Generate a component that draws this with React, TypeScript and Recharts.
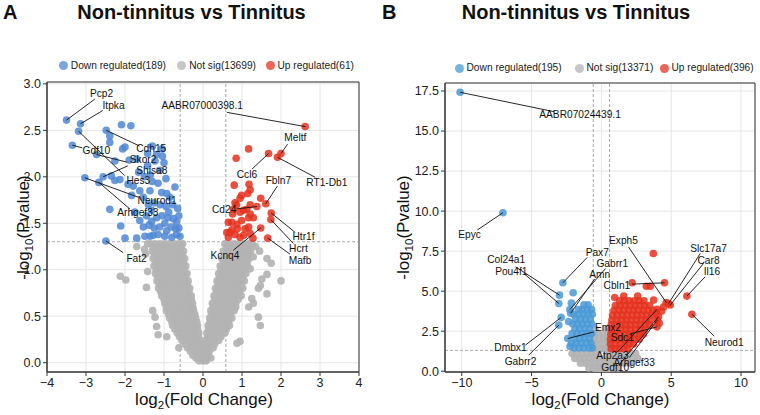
import React from 'react';
import {
  CartesianGrid,
  ReferenceArea,
  ReferenceLine,
  Scatter,
  ScatterChart,
  XAxis,
  YAxis,
} from 'recharts';

// points: [log2 fold change, -log10 p, gene label (optional)]
type Pt = [number, number, string?];

// ---------- panel A ----------
const titleA = 'Non-tinnitus vs Tinnitus';
const countsA = { down: 189, notSig: 13699, up: 61 };
const xTicksA = [-4, -3, -2, -1, 0, 1, 2, 3, 4];
const yTicksA = [0, 0.5, 1, 1.5, 2, 2.5, 3];

const downA: Pt[] = [
  [-3.5, 2.61, 'Pcp2'], [-3.14, 2.57, 'Itpka'], [-3.35, 2.34, 'Gdf10'], [-2.48, 2.5, 'Cdh15'],
  [-2.73, 2.24, 'Skor2'], [-2.56, 2.0, 'Shisa8'], [-3.19, 2.49, 'Hes3'], [-3.03, 1.99, 'Neurod1'],
  [-2.67, 1.94, 'Arhgef33'], [-2.49, 1.31, 'Fat2'],
  [-2.09, 2.56], [-1.85, 2.55], [-2.39, 2.44], [-2.39, 2.37], [-2.06, 2.3], [-2.0, 2.32],
  [-1.42, 2.25], [-1.19, 2.24], [-1.04, 2.22], [-1.0, 2.15], [-2.26, 2.17], [-1.89, 2.18],
  [-1.7, 2.19], [-1.42, 2.12], [-1.23, 2.17], [-1.11, 2.07], [-2.35, 2.01], [-2.13, 1.97],
  [-2.26, 1.96], [-1.92, 1.92], [-1.79, 1.9], [-1.62, 1.85], [-1.36, 1.85], [-1.06, 1.83],
  [-0.72, 1.89], [-0.93, 1.82], [-0.85, 1.78], [-1.83, 1.8], [-1.53, 1.78], [-2.39, 1.65],
  [-1.32, 1.64], [-1.19, 1.56], [-0.76, 1.55], [-0.68, 1.51], [-1.62, 1.53], [-2.11, 1.47],
  [-1.53, 1.46], [-1.11, 1.46], [-0.93, 1.42], [-0.68, 1.38], [-2.0, 1.34], [-0.98, 1.36],
  [-0.8, 1.35], [-1.28, 1.37], [-1.49, 1.36], [-0.59, 1.36], [-1.7, 1.34], [-1.36, 1.36],
  [-1.4, 1.7], [-1.25, 1.72], [-1.1, 1.7], [-0.95, 1.68], [-0.78, 1.7], [-0.65, 1.66],
  [-1.45, 1.58], [-1.05, 1.58], [-0.9, 1.56], [-0.62, 1.58], [-1.38, 1.48], [-1.25, 1.45],
  [-0.98, 1.5], [-0.82, 1.46], [-0.62, 1.45], [-1.15, 1.38], [-0.7, 1.44], [-1.32, 1.52],
  [-0.88, 1.62], [-1.3, 1.95], [-1.15, 1.93], [-0.95, 1.98], [-1.5, 2.0], [-1.65, 2.05],
  [-1.35, 2.02], [-1.75, 1.62], [-1.3, 2.33], [-1.05, 2.3],
];

const upA: Pt[] = [
  [2.62, 2.54, 'AABR07000398.1'], [2.0, 2.25, 'Meltf'], [1.91, 2.21, 'RT1-Db1'], [1.68, 2.25, 'Ccl6'],
  [1.61, 1.71, 'Fbln7'], [1.38, 1.68, 'Cd24'], [1.75, 1.61, 'Htr1f'], [1.74, 1.54, 'Hcrt'],
  [1.66, 1.34, 'Mafb'], [1.48, 1.45, 'Kcnq4'],
  [1.17, 2.3], [0.85, 2.2], [0.8, 1.91], [1.18, 1.92], [1.21, 1.86], [0.99, 1.8], [1.48, 1.77],
  [1.21, 1.7], [0.82, 1.72], [0.78, 1.65], [0.95, 1.62], [1.12, 1.65], [0.74, 1.51],
  [0.87, 1.49], [1.17, 1.56], [1.17, 1.46], [0.69, 1.4], [0.82, 1.38], [1.04, 1.37], [1.21, 1.39],
  [1.08, 1.44], [0.99, 1.53], [1.29, 1.56], [1.21, 1.6], [0.76, 1.6], [0.95, 1.35], [0.65, 1.35],
  [1.28, 1.34], [1.04, 1.64], [0.65, 1.51], [0.61, 1.4], [0.88, 1.44], [0.74, 1.43], [1.15, 1.82],
  [0.95, 1.77], [0.86, 1.7],
];

const notSigA: Pt[] = [
  // left arm
  [-1.34, 1.28], [-1.22, 1.28], [-1.1, 1.28], [-0.98, 1.28], [-0.86, 1.28], [-0.74, 1.28], [-0.62, 1.28], [-0.52, 1.28],
  [-1.28, 1.24], [-1.16, 1.24], [-1.04, 1.24], [-0.92, 1.24], [-0.8, 1.24], [-0.68, 1.24], [-0.56, 1.24],
  [-1.3, 1.2], [-1.18, 1.2], [-1.06, 1.2], [-0.94, 1.2], [-0.82, 1.2], [-0.7, 1.2], [-0.58, 1.2], [-0.5, 1.2],
  [-1.24, 1.16], [-1.12, 1.16], [-1.0, 1.16], [-0.88, 1.16], [-0.76, 1.16], [-0.64, 1.16], [-0.53, 1.16],
  [-1.28, 1.12], [-1.16, 1.12], [-1.04, 1.12], [-0.92, 1.12], [-0.8, 1.12], [-0.68, 1.12], [-0.56, 1.12], [-0.47, 1.12],
  [-1.22, 1.08], [-1.1, 1.08], [-0.98, 1.08], [-0.86, 1.08], [-0.74, 1.08], [-0.62, 1.08], [-0.5, 1.08],
  [-1.26, 1.04], [-1.14, 1.04], [-1.02, 1.04], [-0.9, 1.04], [-0.78, 1.04], [-0.66, 1.04], [-0.54, 1.04], [-0.44, 1.04],
  [-1.2, 1.0], [-1.08, 1.0], [-0.96, 1.0], [-0.84, 1.0], [-0.72, 1.0], [-0.6, 1.0], [-0.48, 1.0],
  [-1.22, 0.96], [-1.1, 0.96], [-0.98, 0.96], [-0.86, 0.96], [-0.74, 0.96], [-0.62, 0.96], [-0.51, 0.96], [-0.41, 0.96],
  [-1.16, 0.92], [-1.04, 0.92], [-0.92, 0.92], [-0.8, 0.92], [-0.68, 0.92], [-0.56, 0.92], [-0.44, 0.92],
  [-1.18, 0.88], [-1.06, 0.88], [-0.94, 0.88], [-0.82, 0.88], [-0.7, 0.88], [-0.58, 0.88], [-0.47, 0.88], [-0.38, 0.88],
  [-1.12, 0.84], [-1.0, 0.84], [-0.88, 0.84], [-0.76, 0.84], [-0.64, 0.84], [-0.52, 0.84], [-0.4, 0.84],
  [-1.14, 0.8], [-1.02, 0.8], [-0.9, 0.8], [-0.78, 0.8], [-0.66, 0.8], [-0.54, 0.8], [-0.43, 0.8], [-0.34, 0.8],
  [-1.08, 0.76], [-0.96, 0.76], [-0.84, 0.76], [-0.72, 0.76], [-0.6, 0.76], [-0.48, 0.76], [-0.36, 0.76],
  [-1.06, 0.72], [-0.94, 0.72], [-0.82, 0.72], [-0.7, 0.72], [-0.58, 0.72], [-0.46, 0.72], [-0.37, 0.72], [-0.3, 0.72],
  [-1.0, 0.68], [-0.88, 0.68], [-0.76, 0.68], [-0.64, 0.68], [-0.52, 0.68], [-0.4, 0.68], [-0.3, 0.68],
  [-0.98, 0.64], [-0.86, 0.64], [-0.74, 0.64], [-0.62, 0.64], [-0.5, 0.64], [-0.38, 0.64], [-0.27, 0.64],
  [-0.94, 0.6], [-0.82, 0.6], [-0.7, 0.6], [-0.58, 0.6], [-0.46, 0.6], [-0.34, 0.6], [-0.26, 0.6],
  [-0.94, 0.56], [-0.82, 0.56], [-0.7, 0.56], [-0.58, 0.56], [-0.46, 0.56], [-0.34, 0.56], [-0.24, 0.56],
  [-0.88, 0.52], [-0.76, 0.52], [-0.64, 0.52], [-0.52, 0.52], [-0.4, 0.52], [-0.3, 0.52], [-0.21, 0.52],
  [-0.86, 0.48], [-0.74, 0.48], [-0.62, 0.48], [-0.5, 0.48], [-0.38, 0.48], [-0.28, 0.48], [-0.19, 0.48],
  [-0.8, 0.44], [-0.68, 0.44], [-0.56, 0.44], [-0.44, 0.44], [-0.32, 0.44], [-0.22, 0.44], [-0.16, 0.44],
  [-0.78, 0.4], [-0.66, 0.4], [-0.54, 0.4], [-0.42, 0.4], [-0.3, 0.4], [-0.2, 0.4], [-0.14, 0.4],
  [-0.72, 0.36], [-0.6, 0.36], [-0.48, 0.36], [-0.36, 0.36], [-0.25, 0.36], [-0.14, 0.36],
  [-0.66, 0.32], [-0.54, 0.32], [-0.42, 0.32], [-0.3, 0.32], [-0.2, 0.32], [-0.11, 0.32],
  [-0.6, 0.28], [-0.48, 0.28], [-0.36, 0.28], [-0.24, 0.28], [-0.12, 0.28],
  [-0.54, 0.24], [-0.42, 0.24], [-0.3, 0.24], [-0.18, 0.24], [-0.08, 0.24],
  [-0.46, 0.2], [-0.34, 0.2], [-0.22, 0.2], [-0.1, 0.2],
  [-0.4, 0.16], [-0.28, 0.16], [-0.16, 0.16], [-0.05, 0.16],
  [-0.32, 0.12], [-0.2, 0.12], [-0.08, 0.12],
  [-0.26, 0.08], [-0.14, 0.08], [-0.03, 0.08],
  [-0.18, 0.05], [-0.06, 0.05], [0.04, 0.05],
  [-0.1, 0.02], [0.0, 0.02], [0.08, 0.02],
  // right arm
  [0.56, 1.28], [0.68, 1.28], [0.8, 1.28], [0.92, 1.28], [1.04, 1.28], [1.16, 1.28], [1.26, 1.28],
  [0.62, 1.24], [0.74, 1.24], [0.86, 1.24], [0.98, 1.24], [1.1, 1.24], [1.22, 1.24],
  [0.52, 1.2], [0.64, 1.2], [0.76, 1.2], [0.88, 1.2], [1.0, 1.2], [1.12, 1.2], [1.22, 1.2],
  [0.58, 1.16], [0.7, 1.16], [0.82, 1.16], [0.94, 1.16], [1.06, 1.16], [1.17, 1.16],
  [0.48, 1.12], [0.6, 1.12], [0.72, 1.12], [0.84, 1.12], [0.96, 1.12], [1.08, 1.12], [1.18, 1.12],
  [0.54, 1.08], [0.66, 1.08], [0.78, 1.08], [0.9, 1.08], [1.02, 1.08], [1.13, 1.08],
  [0.44, 1.04], [0.56, 1.04], [0.68, 1.04], [0.8, 1.04], [0.92, 1.04], [1.04, 1.04], [1.14, 1.04],
  [0.46, 1.0], [0.58, 1.0], [0.7, 1.0], [0.82, 1.0], [0.94, 1.0], [1.06, 1.0],
  [0.4, 0.96], [0.52, 0.96], [0.64, 0.96], [0.76, 0.96], [0.88, 0.96], [1.0, 0.96], [1.1, 0.96],
  [0.42, 0.92], [0.54, 0.92], [0.66, 0.92], [0.78, 0.92], [0.9, 0.92], [1.02, 0.92],
  [0.36, 0.88], [0.48, 0.88], [0.6, 0.88], [0.72, 0.88], [0.84, 0.88], [0.96, 0.88], [1.06, 0.88],
  [0.38, 0.84], [0.5, 0.84], [0.62, 0.84], [0.74, 0.84], [0.86, 0.84], [0.98, 0.84],
  [0.32, 0.8], [0.44, 0.8], [0.56, 0.8], [0.68, 0.8], [0.8, 0.8], [0.92, 0.8], [1.02, 0.8],
  [0.34, 0.76], [0.46, 0.76], [0.58, 0.76], [0.7, 0.76], [0.82, 0.76], [0.94, 0.76],
  [0.28, 0.72], [0.4, 0.72], [0.52, 0.72], [0.64, 0.72], [0.76, 0.72], [0.88, 0.72], [0.98, 0.72],
  [0.3, 0.68], [0.42, 0.68], [0.54, 0.68], [0.66, 0.68], [0.78, 0.68], [0.9, 0.68],
  [0.24, 0.64], [0.36, 0.64], [0.48, 0.64], [0.6, 0.64], [0.72, 0.64], [0.84, 0.64],
  [0.26, 0.6], [0.38, 0.6], [0.5, 0.6], [0.62, 0.6], [0.74, 0.6], [0.84, 0.6],
  [0.2, 0.56], [0.32, 0.56], [0.44, 0.56], [0.56, 0.56], [0.68, 0.56], [0.8, 0.56],
  [0.22, 0.52], [0.34, 0.52], [0.46, 0.52], [0.58, 0.52], [0.7, 0.52],
  [0.17, 0.48], [0.28, 0.48], [0.4, 0.48], [0.52, 0.48], [0.64, 0.48], [0.74, 0.48],
  [0.18, 0.44], [0.3, 0.44], [0.42, 0.44], [0.54, 0.44], [0.66, 0.44],
  [0.13, 0.4], [0.24, 0.4], [0.36, 0.4], [0.48, 0.4], [0.6, 0.4], [0.68, 0.4],
  [0.14, 0.36], [0.26, 0.36], [0.38, 0.36], [0.5, 0.36], [0.6, 0.36],
  [0.1, 0.32], [0.2, 0.32], [0.32, 0.32], [0.44, 0.32], [0.56, 0.32],
  [0.12, 0.28], [0.22, 0.28], [0.34, 0.28], [0.46, 0.28],
  [0.07, 0.24], [0.16, 0.24], [0.28, 0.24], [0.4, 0.24],
  [0.08, 0.2], [0.18, 0.2], [0.3, 0.2],
  [0.04, 0.16], [0.14, 0.16], [0.26, 0.16],
  [0.05, 0.12], [0.16, 0.12],
  [0.02, 0.08], [0.12, 0.08],
  [0.1, 0.05], [0.2, 0.05],
  // scattered
  [-2.12, 0.93], [-1.98, 0.89], [-1.45, 0.81], [-1.29, 0.56], [-1.23, 0.49], [-1.19, 0.39],
  [-1.15, 0.3], [-0.93, 0.28], [-0.62, 0.16], [-1.42, 0.98], [-1.5, 1.22], [-1.42, 1.28],
  [-1.7, 1.25], [-1.47, 1.17],
  [1.64, 1.12], [1.75, 1.07], [2.0, 0.88], [1.64, 0.95], [1.51, 0.9], [1.42, 0.8], [1.64, 0.74],
  [1.25, 0.69], [1.42, 0.49], [1.47, 0.4], [1.17, 0.6], [0.95, 0.23], [0.87, 0.21], [1.29, 1.14],
  [1.12, 1.17], [1.21, 1.01], [1.47, 0.83], [1.29, 0.64], [1.35, 1.25], [1.45, 1.2],
];

// ---------- panel B ----------
const titleB = 'Non-tinnitus vs Tinnitus';
const countsB = { down: 195, notSig: 13371, up: 396 };
const xTicksB = [-10, -5, 0, 5, 10];
const yTicksB = [0, 2.5, 5, 7.5, 10, 12.5, 15, 17.5];

const downB: Pt[] = [
  [-10.12, 17.42, 'AABR07024439.1'], [-7.05, 9.9, 'Epyc'], [-2.76, 5.52, 'Pax7'], [-3.0, 4.75, 'Col24a1'],
  [-3.05, 4.23, 'Pou4f1'], [-2.26, 3.85, 'Gabrr1'], [-2.2, 3.62, 'Amn'], [-2.88, 3.36, 'Dmbx1'],
  [-3.05, 2.88, 'Gabrr2'], [-2.41, 2.04, 'Emx2'],
  [-2.02, 4.9], [-2.15, 4.25], [-2.35, 3.1], [-2.25, 1.55],
  [-1.25, 4.15], [-0.95, 4.15],
  [-1.65, 3.85], [-1.35, 3.85], [-1.0, 3.85], [-0.7, 3.85],
  [-2.0, 3.55], [-1.65, 3.55], [-1.3, 3.55], [-0.95, 3.55], [-0.65, 3.55],
  [-1.85, 3.25], [-1.5, 3.25], [-1.15, 3.25], [-0.8, 3.25],
  [-2.05, 2.95], [-1.7, 2.95], [-1.35, 2.95], [-1.0, 2.95], [-0.68, 2.95],
  [-1.9, 2.65], [-1.55, 2.65], [-1.2, 2.65], [-0.85, 2.65],
  [-2.1, 2.35], [-1.75, 2.35], [-1.4, 2.35], [-1.05, 2.35], [-0.7, 2.35],
  [-1.9, 2.05], [-1.55, 2.05], [-1.2, 2.05], [-0.85, 2.05],
  [-2.15, 1.75], [-1.8, 1.75], [-1.45, 1.75], [-1.1, 1.75], [-0.75, 1.75],
  [-1.95, 1.45], [-1.6, 1.45], [-1.25, 1.45], [-0.9, 1.45], [-0.65, 1.45],
];

const upB: Pt[] = [
  [4.52, 5.52, 'Cbln1'], [4.64, 4.29, 'Exph5'], [4.81, 4.23, 'Slc17a7'], [4.93, 4.13, 'Car8'],
  [6.12, 4.69, 'Il16'], [6.48, 3.56, 'Neurod1'], [3.98, 2.77, 'Sdc1'], [3.98, 3.86, 'Atp2a3'],
  [4.0, 3.19, 'Arhgef33'], [4.09, 3.4, 'Gdf10'],
  [3.72, 7.35], [2.2, 5.52], [3.22, 5.31], [3.5, 5.31], [3.74, 4.44], [4.14, 3.0], [2.6, 4.7],
  [1.6, 4.7], [0.95, 4.6], [3.9, 3.6], [4.3, 3.75], [4.45, 4.0],
  [1.3, 4.4], [1.65, 4.4], [2.0, 4.4], [2.35, 4.4], [2.7, 4.4], [3.05, 4.4],
  [1.0, 4.1], [1.35, 4.1], [1.7, 4.1], [2.05, 4.1], [2.4, 4.1], [2.75, 4.1], [3.1, 4.1], [3.45, 4.1],
  [0.9, 3.8], [1.25, 3.8], [1.6, 3.8], [1.95, 3.8], [2.3, 3.8], [2.65, 3.8], [3.0, 3.8], [3.35, 3.8], [3.7, 3.8],
  [0.8, 3.5], [1.15, 3.5], [1.5, 3.5], [1.85, 3.5], [2.2, 3.5], [2.55, 3.5], [2.9, 3.5], [3.25, 3.5], [3.6, 3.5],
  [0.75, 3.2], [1.1, 3.2], [1.45, 3.2], [1.8, 3.2], [2.15, 3.2], [2.5, 3.2], [2.85, 3.2], [3.2, 3.2], [3.5, 3.2],
  [0.7, 2.9], [1.05, 2.9], [1.4, 2.9], [1.75, 2.9], [2.1, 2.9], [2.45, 2.9], [2.8, 2.9], [3.15, 2.9], [3.45, 2.9],
  [0.7, 2.6], [1.05, 2.6], [1.4, 2.6], [1.75, 2.6], [2.1, 2.6], [2.45, 2.6], [2.8, 2.6], [3.1, 2.6],
  [0.68, 2.3], [1.0, 2.3], [1.35, 2.3], [1.7, 2.3], [2.05, 2.3], [2.4, 2.3], [2.75, 2.3], [3.0, 2.3],
  [0.65, 2.0], [1.0, 2.0], [1.35, 2.0], [1.7, 2.0], [2.05, 2.0], [2.4, 2.0], [2.7, 2.0],
  [0.65, 1.7], [1.0, 1.7], [1.35, 1.7], [1.7, 1.7], [2.0, 1.7], [2.3, 1.7],
  [0.7, 1.4], [1.0, 1.4], [1.3, 1.4], [1.6, 1.4], [1.9, 1.4],
];

const notSigB: Pt[] = [
  [-0.45, 2.6], [0.4, 2.6],
  [-0.5, 2.3], [-0.2, 2.3], [0.2, 2.3], [0.5, 2.3],
  [-0.5, 2.0], [-0.2, 2.0], [0.2, 2.0], [0.5, 2.0],
  [-0.55, 1.7], [-0.25, 1.7], [0.25, 1.7], [0.55, 1.7],
  [-0.55, 1.4], [-0.25, 1.4], [0.0, 1.4], [0.25, 1.4], [0.55, 1.4],
  [-2.1, 1.1], [-1.75, 1.1], [-1.4, 1.1], [-1.05, 1.1], [-0.7, 1.1], [-0.4, 1.1],
  [0.4, 1.1], [0.7, 1.1], [1.05, 1.1], [1.4, 1.1], [1.75, 1.1], [2.1, 1.1], [2.45, 1.1],
  [-1.9, 0.8], [-1.55, 0.8], [-1.2, 0.8], [-0.85, 0.8], [-0.5, 0.8], [-0.2, 0.8],
  [0.2, 0.8], [0.5, 0.8], [0.85, 0.8], [1.2, 0.8], [1.55, 0.8], [1.9, 0.8], [2.25, 0.8], [2.6, 0.8],
  [-1.5, 0.5], [-1.15, 0.5], [-0.8, 0.5], [-0.45, 0.5], [-0.1, 0.5], [0.25, 0.5], [0.6, 0.5],
  [0.95, 0.5], [1.3, 0.5], [1.65, 0.5], [2.0, 0.5],
  [-0.9, 0.2], [-0.55, 0.2], [-0.2, 0.2], [0.15, 0.2], [0.5, 0.2], [0.85, 0.2], [1.2, 0.2],
  [-0.3, 0.0], [0.05, 0.0], [0.4, 0.0],
];

// thresholds: |log2FC| > log2(1.5), p < 0.05
const FC_CUT = 0.585;
const P_CUT = 1.301;

// label placement in px relative to the point: [text dx, text dy, line end dx, line end dy]
const labelPosA: Record<string, number[]> = {
  Pcp2: [35, -26.6, 28.3, -21],
  Itpka: [33, -18.7, 22.3, -13.4],
  Gdf10: [24, 5, 10, 2.7],
  Cdh15: [45, 18.4, 33.3, 15.7],
  Skor2: [46.6, 5, 30.6, 7.7],
  Shisa8: [48.7, -6.5, 24.7, -11],
  Hes3: [59.8, 49.6, 46, 44.3],
  Neurod1: [72.3, 22.7, 53.3, 19.4],
  Arhgef33: [39, 30.1, 31, 26.6],
  Fat2: [30.7, 17.3, 17.3, 11.7],
  'AABR07000398.1': [-103, -21, -78.3, -14.3],
  Meltf: [14.3, -16, 6.6, -9.4],
  'RT1-Db1': [49.4, 25, 37.7, 20],
  Ccl6: [-21.6, 21.3, -16.6, 15.6],
  Fbln7: [12.6, -23.4, 11.6, -17.7],
  Cd24: [-32.7, 3.3, -20, 2.3],
  Htr1f: [32.3, 23.7, 24, 19.4],
  Hcrt: [27.6, 29, 22.6, 24],
  Mafb: [32.3, 22.7, 22.3, 16],
  Kcnq4: [-35.7, 28, -27.4, 22.3],
};

const labelPosB: Record<string, number[]> = {
  'AABR07024439.1': [120, 22.7, 94, 19.4],
  Epyc: [-33.3, 22.3, -25.6, 17.3],
  Pax7: [34.4, -30.4, 24.4, -25.4],
  Col24a1: [-53.3, -35.7, -44, -28.3],
  Pou4f1: [-47.5, -32, -35, -30],
  Gabrr1: [42.4, -46, 35.7, -41],
  Amn: [29, -38.7, 24, -34.4],
  Cbln1: [-47.6, 2.3, -32.6, 1.3],
  Exph5: [-42.7, -61.6, -37.7, -55.6],
  Slc17a7: [40, -55, 31.7, -50],
  Car8: [38.3, -45, 33.3, -41.7],
  Il16: [25, -24.3, 18.3, -19.3],
  Neurod1: [32.3, 28.7, 22.3, 22],
  Emx2: [40.2, -11.5, 26, -6.6],
  Sdc1: [-34.7, 10.6, -25, 6.6],
  Atp2a3: [-44.5, 46.4, -40, 43],
  Arhgef33: [-23, 42.2, -28, 37.5],
  Gdf10: [-43.3, 51.2, -38.3, 46.6],
  Dmbx1: [-50.7, 30.4, -35.7, 27.7],
  Gabrr2: [-38.3, 36, -30, 30],
};

const FONT = '"Liberation Sans", Arial, Helvetica, sans-serif';
const GREY = '#b3b3b3';
const RED = '#e5311d';
const BLUE_A = '#4f87d4';
const BLUE_B = '#4a9ad6';

const toRows = (arr: Pt[]) => arr.map(([x, y, gene]) => ({ x, y, gene }));
const minus = (v: number) => (v < 0 ? '\u2212' + Math.abs(v) : String(v));

const dot = (fill: string, opacity: number) => (p: any) => (
  <circle cx={p.cx} cy={p.cy} r={3.8} fill={fill} fillOpacity={opacity} />
);

const labelShape = (pos: Record<string, number[]>) => (p: any) => {
  const o = pos[p.payload.gene];
  if (!o) return <g />;
  return (
    <g>
      <line x1={p.cx} y1={p.cy} x2={p.cx + o[2]} y2={p.cy + o[3]} stroke="#111" strokeWidth={0.9} />
      <text
        x={p.cx + o[0]}
        y={p.cy + o[1]}
        textAnchor="middle"
        dominantBaseline="central"
        fontSize={10.2}
        fontFamily={FONT}
        fill="#111"
      >
        {p.payload.gene}
      </text>
    </g>
  );
};

function Volcano({ left, yAxisWidth, right, top, xDomain, yDomain, xTicks, yTicks, notSig, down, up, blue, labelPos }: any) {
  const labeled = toRows([...down, ...up].filter((p: Pt) => p[2]));
  return (
    <ScatterChart width={380} height={415} margin={{ top, right, bottom: 0, left }} style={{ fontFamily: FONT }}>
      <CartesianGrid stroke="#e6e6e6" />
      <XAxis
        type="number"
        dataKey="x"
        domain={xDomain}
        ticks={xTicks}
        interval={0}
        allowDataOverflow
        tickFormatter={minus}
        height={43}
        tickSize={4}
        stroke="#333"
        tick={{ fill: '#222', fontSize: 12.5, fontFamily: FONT }}
      />
      <YAxis
        type="number"
        dataKey="y"
        domain={yDomain}
        ticks={yTicks}
        interval={0}
        allowDataOverflow
        tickFormatter={(v: number) => v.toFixed(1)}
        width={yAxisWidth}
        tickSize={4}
        stroke="#333"
        tick={{ fill: '#222', fontSize: 12.5, fontFamily: FONT }}
      />
      <ReferenceLine x={-FC_CUT} stroke="#a8a8a8" strokeDasharray="3 2" />
      <ReferenceLine x={FC_CUT} stroke="#a8a8a8" strokeDasharray="3 2" />
      <ReferenceLine y={P_CUT} stroke="#a8a8a8" strokeDasharray="3 2" />
      <Scatter data={toRows(notSig)} shape={dot(GREY, 0.92)} isAnimationActive={false} />
      <Scatter data={toRows(down)} shape={dot(blue, 0.85)} isAnimationActive={false} />
      <Scatter data={toRows(up)} shape={dot(RED, 0.85)} isAnimationActive={false} />
      <Scatter data={labeled} shape={labelShape(labelPos)} isAnimationActive={false} />
      <ReferenceArea
        x1={xDomain[0]}
        x2={xDomain[1]}
        y1={yDomain[0]}
        y2={yDomain[1]}
        fillOpacity={0}
        stroke="#333"
        ifOverflow="visible"
      />
    </ScatterChart>
  );
}

// legend: one item per series, placed by the centre of its marker
function LegendRow({ y, blue, counts, xs }: any) {
  const items = [
    { label: `Down regulated(${counts.down})`, color: blue },
    { label: `Not sig(${counts.notSig})`, color: GREY },
    { label: `Up regulated(${counts.up})`, color: RED },
  ];
  return (
    <>
      {items.map((it, i) => (
        <div
          key={it.label}
          style={{
            position: 'absolute',
            left: xs[i] - 4.5,
            top: y - 6,
            display: 'flex',
            alignItems: 'center',
            whiteSpace: 'nowrap',
            fontSize: 10.2,
            lineHeight: '12px',
            color: '#222',
          }}
        >
          <span style={{ width: 9, height: 9, borderRadius: '50%', background: it.color, opacity: 0.75, marginRight: 3, flexShrink: 0 }} />
          <span>{it.label}</span>
        </div>
      ))}
    </>
  );
}

function XTitle({ cx, top, base, sub }: any) {
  return (
    <div style={{ position: 'absolute', left: cx - 150, width: 300, top, textAlign: 'center', fontSize: 17, lineHeight: '22px', color: '#111' }}>
      {base}
      <span style={{ fontSize: 11.5, position: 'relative', top: 4 }}>{sub}</span>
      (Fold Change)
    </div>
  );
}

function YTitle({ cx, cy }: any) {
  return (
    <div
      style={{
        position: 'absolute',
        left: cx - 150,
        top: cy - 11,
        width: 300,
        textAlign: 'center',
        fontSize: 17,
        lineHeight: '22px',
        color: '#111',
        transform: 'rotate(-90deg)',
      }}
    >
      -log<span style={{ fontSize: 11.5, position: 'relative', top: 4 }}>10</span>(Pvalue)
    </div>
  );
}

export default function App() {
  return (
    <div style={{ position: 'relative', width: 760, height: 415, background: '#fff', overflow: 'hidden', fontFamily: FONT }}>
      <style>{'body{margin:0}'}</style>
      <div style={{ position: 'absolute', left: 0, top: 0 }}>
        <Volcano
          left={0}
          yAxisWidth={47}
          right={21}
          top={82}
          xDomain={[-4, 4]}
          yDomain={[-0.1, 3.02]}
          xTicks={xTicksA}
          yTicks={yTicksA}
          notSig={notSigA}
          down={downA}
          up={upA}
          blue={BLUE_A}
          labelPos={labelPosA}
        />
      </div>
      <div style={{ position: 'absolute', left: 380, top: 0 }}>
        <Volcano
          left={0}
          yAxisWidth={65}
          right={5}
          top={83}
          xDomain={[-11.2, 11]}
          yDomain={[-0.05, 18]}
          xTicks={xTicksB}
          yTicks={yTicksB}
          notSig={notSigB}
          down={downB}
          up={upB}
          blue={BLUE_B}
          labelPos={labelPosB}
        />
      </div>

      <div style={{ position: 'absolute', left: 3, top: 1.5, fontSize: 20, lineHeight: '20px', fontWeight: 'bold', color: '#111' }}>A</div>
      <div style={{ position: 'absolute', left: -8.5, width: 400, top: 1.5, textAlign: 'center', fontSize: 20, lineHeight: '20px', fontWeight: 'bold', color: '#111' }}>
        {titleA}
      </div>
      <div style={{ position: 'absolute', left: 382, top: 1.5, fontSize: 20, lineHeight: '20px', fontWeight: 'bold', color: '#111' }}>B</div>
      <div style={{ position: 'absolute', left: 376, width: 400, top: 1.5, textAlign: 'center', fontSize: 20, lineHeight: '20px', fontWeight: 'bold', color: '#111' }}>
        {titleB}
      </div>

      <LegendRow y={65.7} blue={BLUE_A} counts={countsA} xs={[63.3, 181.7, 270]} />
      <LegendRow y={68.3} blue={BLUE_B} counts={countsB} xs={[459, 579, 664]} />

      <YTitle cx={24} cy={227} />
      <YTitle cx={404} cy={227} />
      <XTitle cx={204} top={389} base="log" sub="2" />
      <XTitle cx={600.5} top={389} base="log" sub="2" />
    </div>
  );
}
